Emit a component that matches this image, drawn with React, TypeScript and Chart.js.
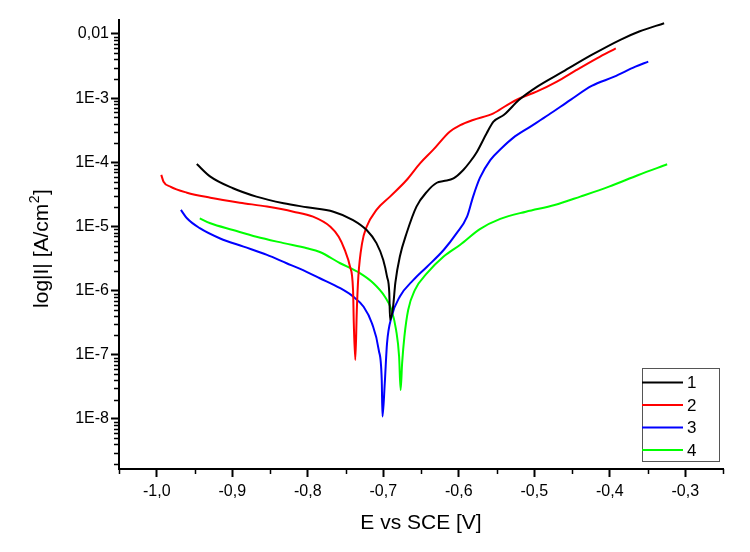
import { useEffect, useRef } from 'react';
import { Chart, registerables } from 'chart.js';

Chart.register(...registerables);

const FONT = '"Liberation Sans", Arial, sans-serif';

const SERIES_LABELS = ['1', '2', '3', '4'];
const SERIES_COLORS = ['#000000', '#ff0000', '#0000ff', '#00ff00'];

const X_MIN = -1.05;
const X_MAX = -0.25;
const Y_MIN = 1.66e-9;
const Y_MAX = 0.0165;

const X_TICKS = [-1.0, -0.9, -0.8, -0.7, -0.6, -0.5, -0.4, -0.3];
const X_TICK_LABELS = ['-1,0', '-0,9', '-0,8', '-0,7', '-0,6', '-0,5', '-0,4', '-0,3'];
const X_MINOR = [-1.05, -0.95, -0.85, -0.75, -0.65, -0.55, -0.45, -0.35, -0.25];

const Y_TICKS = [1e-8, 1e-7, 1e-6, 1e-5, 1e-4, 1e-3, 1e-2];
const Y_TICK_LABELS = ['1E-8', '1E-7', '1E-6', '1E-5', '1E-4', '1E-3', '0,01'];
const Y_DECADES = [1e-9, 1e-8, 1e-7, 1e-6, 1e-5, 1e-4, 1e-3, 1e-2];
const Y_MINOR_MULT = [2, 3, 4, 5, 6, 7, 8, 9];

const X_TITLE = 'E vs SCE [V]';
const Y_TITLE_MAIN = 'log|I| [A/cm';
const Y_TITLE_SUP = '2';
const Y_TITLE_END = ']';

// Series 1 (black)
const E1 = [-0.947, -0.929, -0.899, -0.868, -0.832, -0.801, -0.766, -0.740, -0.722, -0.709, -0.700, -0.695, -0.692, -0.691, -0.687, -0.684, -0.678, -0.669, -0.656, -0.642, -0.629, -0.620, -0.607, -0.594, -0.585, -0.576, -0.563, -0.554, -0.540, -0.520, -0.496, -0.462, -0.424, -0.386, -0.361, -0.328];
const I1 = [9.4e-5, 5.97e-5, 3.94e-5, 2.92e-5, 2.30e-5, 1.99e-5, 1.70e-5, 1.26e-5, 8.8e-6, 5.5e-6, 3.0e-6, 1.65e-6, 9.2e-7, 3.5e-7, 5.6e-7, 1.32e-6, 3.4e-6, 7.9e-6, 2.04e-5, 3.5e-5, 4.8e-5, 5.1e-5, 5.6e-5, 7.6e-5, 1.02e-4, 1.45e-4, 2.84e-4, 4.3e-4, 5.5e-4, 9.4e-4, 1.51e-3, 2.58e-3, 4.7e-3, 8.1e-3, 1.09e-2, 1.47e-2];

// Series 2 (red)
const E2 = [-0.994, -0.991, -0.982, -0.960, -0.929, -0.890, -0.854, -0.819, -0.793, -0.770, -0.759, -0.751, -0.744, -0.740, -0.739, -0.737, -0.735, -0.733, -0.728, -0.722, -0.709, -0.691, -0.669, -0.651, -0.634, -0.612, -0.598, -0.581, -0.554, -0.536, -0.519, -0.497, -0.470, -0.444, -0.417, -0.392];
const I2 = [6.35e-5, 4.99e-5, 4.17e-5, 3.36e-5, 2.81e-5, 2.35e-5, 2.04e-5, 1.70e-5, 1.42e-5, 9.9e-6, 6.9e-6, 4.3e-6, 2.36e-6, 1.02e-6, 3.1e-7, 8.3e-8, 5.0e-7, 1.65e-6, 5.5e-6, 9.9e-6, 1.81e-5, 2.92e-5, 5.3e-5, 9.7e-5, 1.56e-4, 3.0e-4, 3.8e-4, 4.57e-4, 5.8e-4, 7.8e-4, 9.95e-4, 1.26e-3, 1.81e-3, 2.75e-3, 4.18e-3, 5.98e-3];

// Series 3 (blue)
const E3 = [-0.968, -0.960, -0.943, -0.916, -0.885, -0.854, -0.828, -0.810, -0.784, -0.757, -0.740, -0.726, -0.715, -0.706, -0.702, -0.701, -0.698, -0.695, -0.689, -0.678, -0.660, -0.642, -0.620, -0.603, -0.589, -0.581, -0.572, -0.558, -0.543, -0.528, -0.505, -0.481, -0.452, -0.424, -0.394, -0.366, -0.349];
const I3 = [1.81e-5, 1.34e-5, 9.4e-6, 6.5e-6, 4.84e-6, 3.6e-6, 2.67e-6, 2.18e-6, 1.56e-6, 1.09e-6, 8.1e-7, 5.6e-7, 3.1e-7, 1.19e-7, 4.06e-8, 1.09e-8, 3.6e-8, 1.51e-7, 3.9e-7, 8.1e-7, 1.47e-6, 2.36e-6, 4.3e-6, 7.8e-6, 1.42e-5, 2.92e-5, 5.7e-5, 1.09e-4, 1.67e-4, 2.4e-4, 3.6e-4, 5.5e-4, 9.4e-4, 1.55e-3, 2.16e-3, 3.09e-3, 3.7e-3];

// Series 4 (green)
const E4 = [-0.943, -0.929, -0.899, -0.868, -0.832, -0.801, -0.784, -0.757, -0.731, -0.713, -0.698, -0.689, -0.683, -0.679, -0.677, -0.675, -0.672, -0.667, -0.658, -0.642, -0.620, -0.598, -0.572, -0.545, -0.511, -0.473, -0.439, -0.401, -0.362, -0.324];
const I4 = [1.34e-5, 1.12e-5, 8.8e-6, 6.9e-6, 5.5e-6, 4.57e-6, 4.0e-6, 2.67e-6, 1.87e-6, 1.30e-6, 8.1e-7, 5.0e-7, 2.44e-7, 9.4e-8, 2.83e-8, 7.4e-8, 1.92e-7, 5.0e-7, 1.03e-6, 1.87e-6, 3.4e-6, 5.2e-6, 9.1e-6, 1.31e-5, 1.70e-5, 2.16e-5, 2.92e-5, 4.17e-5, 6.35e-5, 9.3e-5];

const SERIES_E = [E1, E2, E3, E4];
const SERIES_I = [I1, I2, I3, I4];

const minorTicksPlugin = {
  id: 'minorTicks',
  afterDraw(chart: any) {
    const { ctx, chartArea, scales } = chart;
    const xs = scales.x;
    const ys = scales.y;
    ctx.save();
    ctx.strokeStyle = '#000';
    ctx.lineWidth = 1.5;
    ctx.beginPath();
    X_MINOR.forEach((v) => {
      const px = Math.round(xs.getPixelForValue(v)) + 0.5;
      ctx.moveTo(px, chartArea.bottom);
      ctx.lineTo(px, chartArea.bottom + 5);
    });
    Y_DECADES.forEach((d) => {
      Y_MINOR_MULT.forEach((m) => {
        const v = d * m;
        if (v < Y_MIN || v > Y_MAX) return;
        const py = Math.round(ys.getPixelForValue(v)) + 0.5;
        ctx.moveTo(chartArea.left, py);
        ctx.lineTo(chartArea.left - 5, py);
      });
    });
    ctx.stroke();
    ctx.restore();
  },
};

const yTitlePlugin = {
  id: 'yTitleSup',
  afterDraw(chart: any) {
    const { ctx, chartArea } = chart;
    const mainFont = `21px ${FONT}`;
    const supFont = `14px ${FONT}`;
    const cx = 32;
    const cy = (chartArea.top + chartArea.bottom) / 2 + 4.5;
    ctx.save();
    ctx.translate(cx, cy);
    ctx.rotate(-Math.PI / 2);
    ctx.fillStyle = '#000';
    ctx.textAlign = 'left';
    ctx.textBaseline = 'alphabetic';
    ctx.font = mainFont;
    const w1 = ctx.measureText(Y_TITLE_MAIN).width;
    const w3 = ctx.measureText(Y_TITLE_END).width;
    ctx.font = supFont;
    const w2 = ctx.measureText(Y_TITLE_SUP).width;
    let x = -(w1 + w2 + w3) / 2;
    ctx.font = mainFont;
    ctx.fillText(Y_TITLE_MAIN, x, 7.5);
    x += w1;
    ctx.font = supFont;
    ctx.fillText(Y_TITLE_SUP, x + 0.5, -1.5);
    x += w2 + 1;
    ctx.font = mainFont;
    ctx.fillText(Y_TITLE_END, x, 7.5);
    ctx.restore();
  },
};

const boxLegendPlugin = {
  id: 'boxLegend',
  afterDraw(chart: any) {
    const { ctx, chartArea } = chart;
    const w = 77;
    const h = 93;
    const right = chartArea.right - 4;
    const bottom = chartArea.bottom - 8;
    const left = right - w;
    const top = bottom - h;
    ctx.save();
    ctx.fillStyle = '#ffffff';
    ctx.fillRect(left, top, w, h);
    ctx.strokeStyle = '#555555';
    ctx.lineWidth = 1;
    ctx.strokeRect(Math.round(left) + 0.5, Math.round(top) + 0.5, w, h);
    ctx.font = `17px ${FONT}`;
    ctx.textBaseline = 'middle';
    ctx.textAlign = 'left';
    chart.data.datasets.forEach((ds: any, i: number) => {
      const y = top + 14.5 + i * 22.5;
      ctx.strokeStyle = ds.borderColor;
      ctx.lineWidth = 2;
      ctx.beginPath();
      ctx.moveTo(left, y);
      ctx.lineTo(left + 41, y);
      ctx.stroke();
      ctx.fillStyle = '#000';
      ctx.fillText(ds.label, left + 45, y + 1);
    });
    ctx.restore();
  },
};

export default function App() {
  const ref = useRef<HTMLCanvasElement>(null);

  useEffect(() => {
    const canvas = ref.current;
    if (!canvas) return;
    const datasets = SERIES_LABELS.map((label, s) => ({
      label,
      data: SERIES_E[s].map((e, i) => ({ x: e, y: SERIES_I[s][i] })),
      borderColor: SERIES_COLORS[s],
      backgroundColor: SERIES_COLORS[s],
      borderWidth: 2,
      pointRadius: 0,
      showLine: true,
      fill: false,
      cubicInterpolationMode: 'monotone' as const,
    }));

    const chart = new Chart(canvas, {
      type: 'scatter',
      data: { datasets },
      options: {
        animation: false,
        responsive: false,
        maintainAspectRatio: false,
        layout: { padding: { top: 12, right: 19, left: 0, bottom: 0 } },
        plugins: {
          legend: { display: false },
          tooltip: { enabled: false },
        },
        scales: {
          x: {
            type: 'linear',
            position: 'bottom',
            min: X_MIN,
            max: X_MAX,
            afterBuildTicks: (scale: any) => {
              scale.ticks = X_TICKS.map((v) => ({ value: v }));
            },
            afterFit: (scale: any) => {
              scale.height = 75;
            },
            ticks: {
              autoSkip: false,
              maxRotation: 0,
              padding: 5,
              color: '#000',
              font: { family: FONT, size: 16 },
              callback: (_v: any, i: number) => X_TICK_LABELS[i],
            },
            grid: {
              drawOnChartArea: false,
              drawTicks: true,
              tickLength: 8,
              tickColor: '#000',
              tickWidth: 2,
            },
            border: { display: true, color: '#000', width: 2 },
            title: {
              display: true,
              text: X_TITLE,
              color: '#000',
              font: { family: FONT, size: 21 },
              padding: { top: 0, bottom: 8 },
            },
          },
          y: {
            type: 'logarithmic',
            position: 'left',
            min: Y_MIN,
            max: Y_MAX,
            afterBuildTicks: (scale: any) => {
              scale.ticks = Y_TICKS.map((v) => ({ value: v }));
            },
            afterFit: (scale: any) => {
              scale.width = 111;
            },
            ticks: {
              autoSkip: false,
              padding: 2,
              color: '#000',
              font: { family: FONT, size: 16 },
              callback: (_v: any, i: number) => Y_TICK_LABELS[i],
            },
            grid: {
              drawOnChartArea: false,
              drawTicks: true,
              tickLength: 8,
              tickColor: '#000',
              tickWidth: 2,
            },
            border: { display: true, color: '#000', width: 2 },
            title: { display: false },
          },
        },
      },
      plugins: [minorTicksPlugin, yTitlePlugin, boxLegendPlugin],
    });

    return () => chart.destroy();
  }, []);

  return (
    <div style={{ width: 734, height: 536 }}>
      <canvas ref={ref} width={734} height={536} style={{ display: 'block' }} />
    </div>
  );
}
